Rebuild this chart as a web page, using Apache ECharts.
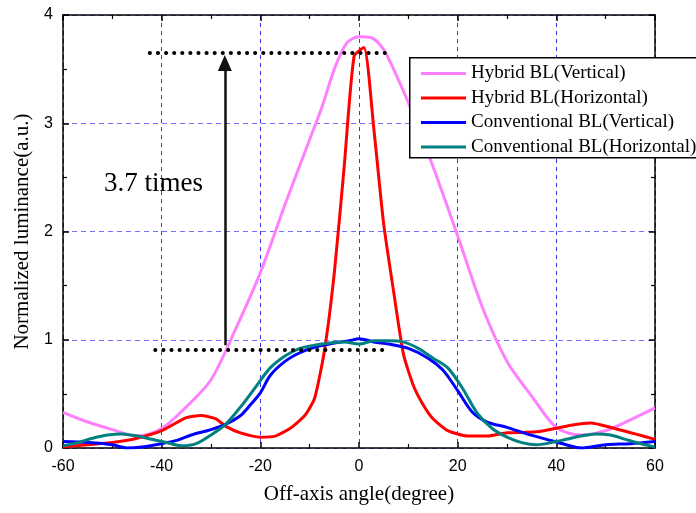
<!DOCTYPE html>
<html><head><meta charset="utf-8">
<script src="https://cdn.jsdelivr.net/npm/echarts@6/dist/echarts.min.js"></script>
<style>html,body{margin:0;padding:0;background:#fff}#c{width:696px;height:513px}</style>
</head><body><div id="c"></div>
<script>
const seriesNames = ['Hybrid BL(Vertical)', 'Hybrid BL(Horizontal)', 'Conventional BL(Vertical)', 'Conventional BL(Horizontal)'];

const hybridVAngles = [-60,-55,-50,-45,-40,-35,-30,-25,-20,-15,-10,-7.5,-5,-2.5,0,2.5,5,7.5,10,15,20,25,30,35,40,45,50,55,60];
const hybridVValues = [0.33,0.24,0.17,0.11,0.18,0.38,0.63,1.1,1.62,2.25,2.85,3.15,3.5,3.74,3.8,3.79,3.68,3.45,3.19,2.6,1.96,1.3,0.8,0.48,0.19,0.12,0.16,0.26,0.37];

const hybridHAngles = [-60,-55,-50,-45,-40,-35,-32,-29,-27,-24,-20,-17,-14,-11,-9,-7,-5,-3,-1,1,3,5,7,9,11,13,15,18,22,26,30,36,43,47,51,56,60];
const hybridHValues = [0.01,0.03,0.05,0.09,0.16,0.28,0.30,0.27,0.2,0.14,0.10,0.11,0.18,0.30,0.46,0.9,1.62,2.6,3.62,3.7,2.95,2.07,1.45,0.87,0.58,0.4,0.27,0.16,0.11,0.11,0.14,0.15,0.21,0.23,0.19,0.13,0.08];

const convVAngles = [-60,-55,-50,-47,-44,-40,-37,-34,-30,-27,-24,-22,-20,-18,-15,-12,-9,-5,-2,0,3,6,10,14,17,20,23,26,30,34,38,42,45,50,55,60];
const convVValues = [0.06,0.05,0.03,0.0,0.01,0.04,0.07,0.12,0.17,0.22,0.3,0.4,0.51,0.67,0.8,0.88,0.93,0.97,0.99,1.01,0.98,0.96,0.92,0.83,0.72,0.53,0.33,0.24,0.19,0.13,0.08,0.03,0.0,0.03,0.04,0.06];

const convHAngles = [-60,-57,-54,-51,-48,-45,-42,-39,-36,-33,-30,-27,-24,-21,-18,-15,-12,-9,-6,-3,0,3,6,9,12,15,18,21,24,27,30,33,36,39,42,45,48,51,54,57,60];
const convHValues = [0.02,0.05,0.09,0.12,0.13,0.11,0.08,0.05,0.02,0.04,0.12,0.22,0.38,0.56,0.74,0.85,0.92,0.95,0.97,0.98,0.96,0.99,0.99,0.98,0.92,0.83,0.74,0.55,0.32,0.18,0.1,0.05,0.03,0.05,0.08,0.11,0.13,0.12,0.08,0.04,0.01];

// annotation (data coordinates)
const topDotLine = [[-42.4, 3.65], [5.9, 3.65]];
const bottomDotLine = [[-41.3, 0.905], [6.3, 0.905]];
const arrowLine = [[-27.2, 0.95], [-27.2, 3.557]];
const annotationText = '3.7 times';

const colors = ['#ff80ff', '#ff0000', '#0000ff', '#008080'];
const serif = '"Liberation Serif", "Times New Roman", serif';
const sans = '"Liberation Sans", Arial, sans-serif';

function pairs(a, v) { return a.map((x, i) => [x, v[i]]); }

const chart = echarts.init(document.getElementById('c'), null, { renderer: 'canvas' });

const tickCommon = { show: true, inside: true, length: 6, lineStyle: { color: '#000', width: 1.5 } };
const minorCommon = { show: true, splitNumber: 2, length: 4, lineStyle: { color: '#000', width: 1.2 } };
const axisLineCommon = { show: true, onZero: false, lineStyle: { color: '#000', width: 1.5 } };

const option = {
  animation: false,
  backgroundColor: '#fff',
  grid: { left: 63, top: 15, right: 41, bottom: 65 },
  xAxis: [{
    type: 'value', min: -60, max: 60, interval: 20, position: 'bottom',
    name: 'Off-axis angle(degree)', nameLocation: 'middle', nameGap: 36,
    nameTextStyle: { fontFamily: serif, fontSize: 21, color: '#000' },
    axisLine: axisLineCommon, axisTick: tickCommon, minorTick: minorCommon,
    axisLabel: { fontFamily: sans, fontSize: 16, color: '#000', margin: 11 },
    splitLine: { show: true, lineStyle: { color: '#3535ff', type: [4, 4], width: 1 } }
  }, {
    type: 'value', min: -60, max: 60, interval: 20, position: 'top',
    axisLine: axisLineCommon, axisTick: tickCommon, minorTick: minorCommon,
    axisLabel: { show: false }, splitLine: { show: false }
  }],
  yAxis: [{
    type: 'value', min: 0, max: 4, interval: 1, position: 'left',
    name: 'Normalized luminance(a.u.)', nameLocation: 'middle', nameGap: 30,
    nameTextStyle: { fontFamily: serif, fontSize: 21, color: '#000' },
    axisLine: axisLineCommon, axisTick: tickCommon, minorTick: minorCommon,
    axisLabel: { fontFamily: sans, fontSize: 16, color: '#000', margin: 10 },
    splitLine: { show: true, lineStyle: { color: '#7070ff', type: [5, 4], width: 1 } }
  }, {
    type: 'value', min: 0, max: 4, interval: 1, position: 'right',
    axisLine: axisLineCommon, axisTick: tickCommon, minorTick: minorCommon,
    axisLabel: { show: false }, splitLine: { show: false }
  }],
  legend: {
    data: seriesNames, orient: 'vertical', left: 409, top: 57, z: 6,
    padding: [7, 10, 1, 12], itemWidth: 45, itemHeight: 3, itemGap: 5.5,
    icon: 'rect', borderWidth: 0,
    textStyle: { fontFamily: serif, fontSize: 19, color: '#000' }
  },
  graphic: [{
    type: 'rect', left: 409, top: 57, z: 5,
    shape: { width: 320, height: 100 },
    style: { fill: '#fff', stroke: '#000', lineWidth: 1.5 }
  }, {
    type: 'text', x: 104, y: 184, z: 10,
    style: { text: annotationText, font: '27px "Liberation Serif", serif', fill: '#000', verticalAlign: 'middle' }
  }],
  series: [
    { name: seriesNames[0], type: 'line', data: pairs(hybridVAngles, hybridVValues), smooth: 0.3, symbol: 'none', color: colors[0], lineStyle: { width: 3, color: colors[0] } },
    { name: seriesNames[1], type: 'line', data: pairs(hybridHAngles, hybridHValues), smooth: 0.2, symbol: 'none', color: colors[1], lineStyle: { width: 3, color: colors[1] } },
    { name: seriesNames[2], type: 'line', data: pairs(convVAngles, convVValues), smooth: 0.3, symbol: 'none', color: colors[2], lineStyle: { width: 3, color: colors[2] } },
    { name: seriesNames[3], type: 'line', data: pairs(convHAngles, convHValues), smooth: 0.3, symbol: 'none', color: colors[3], lineStyle: { width: 3, color: colors[3] } },
    {
      name: 'annotation', type: 'line', data: [], silent: true,
      markLine: {
        silent: true, animation: false, symbol: 'none', label: { show: false },
        data: [
          [{ coord: topDotLine[0], lineStyle: { color: '#000', type: [0.1, 8], width: 4, cap: 'round' } }, { coord: topDotLine[1] }],
          [{ coord: bottomDotLine[0], lineStyle: { color: '#000', type: [0.1, 8], width: 4, cap: 'round' } }, { coord: bottomDotLine[1] }],
          [{ coord: arrowLine[0], symbol: 'none', lineStyle: { color: '#111', type: 'solid', width: 2.5 } },
           { coord: arrowLine[1], symbol: 'triangle', symbolSize: [14, 16] }]
        ]
      }
    }
  ]
};
chart.setOption(option);
</script>
</body></html>
